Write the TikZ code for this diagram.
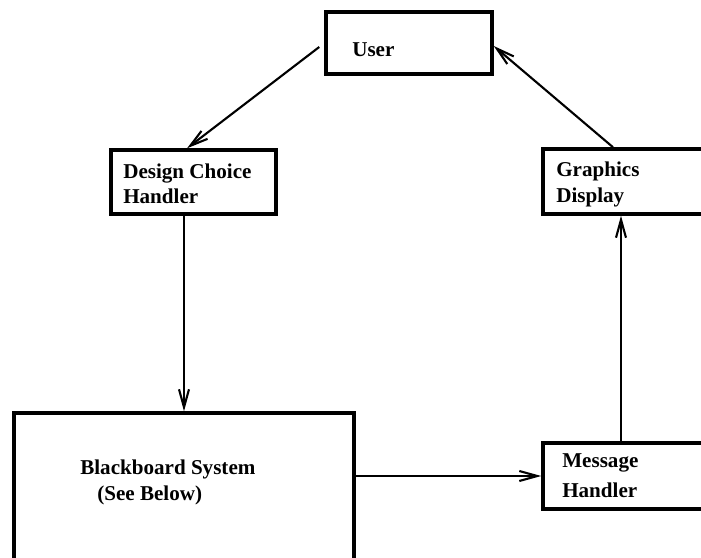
\documentclass[tikz,border=0pt]{standalone}
\usepackage{fontspec}
\setmainfont{Liberation Serif}
\usetikzlibrary{arrows.meta}

\begin{document}
\begin{tikzpicture}[
    box/.style={draw, line width=2.5pt, inner sep=0pt},
    lbl/.style={anchor=base west, inner sep=0pt, font=\fontsize{15}{18}\selectfont\bfseries},
    arr/.style={->, line width=1.5pt},
    >={Straight Barb[length=0.45cm,width=0.25cm]}
  ]
  \useasboundingbox (0,0) rectangle (17.525,-13.95);

  % the five boxes
  \node [box, minimum width=4.15cm, minimum height=1.55cm] (user) at (10.225,-1.075) {};
  \node [box, minimum width=4.125cm, minimum height=1.6cm] (design) at (4.8375,-4.55) {};
  \node [box, minimum width=4.5cm, minimum height=1.625cm] (graphics) at (15.825,-4.5375) {};
  \node [box, minimum width=4.5cm, minimum height=1.65cm] (message) at (15.825,-11.9) {};
  \node [box, minimum width=8.5cm, minimum height=4.675cm] (board) at (4.6,-12.6625) {};

  % box texts
  \node [lbl] (userText) at (8.8,-1.425) {User};
  \node [lbl] (designTextA) at (3.075,-4.475) {Design Choice};
  \node [lbl] (designTextB) at (3.075,-5.1) {Handler};
  \node [lbl] (graphicsTextA) at (13.9,-4.425) {Graphics};
  \node [lbl] (graphicsTextB) at (13.9,-5.075) {Display};
  \node [lbl] (messageTextA) at (14.05,-11.675) {Message};
  \node [lbl] (messageTextB) at (14.05,-12.425) {Handler};
  \node [lbl] (boardTextA) at (2.0,-11.85) {Blackboard System};
  \node [lbl] (boardTextB) at (2.425,-12.5) {(See Below)};

  % the loop
  \draw [arr] ([xshift=-0.125cm,yshift=-0.1cm]user.west) -- ([xshift=-0.16cm]design.north);
  \draw [arr] (design.south -| board.north) -- (board.north);
  \draw [arr] (board.east |- message.west) -- (message.west);
  \draw [arr] ([xshift=-0.3cm]message.north) -- ([xshift=-0.3cm]graphics.south);
  \draw [arr] ([xshift=-0.5cm]graphics.north) -- ([yshift=-0.075cm]user.east);
\end{tikzpicture}
\end{document}
